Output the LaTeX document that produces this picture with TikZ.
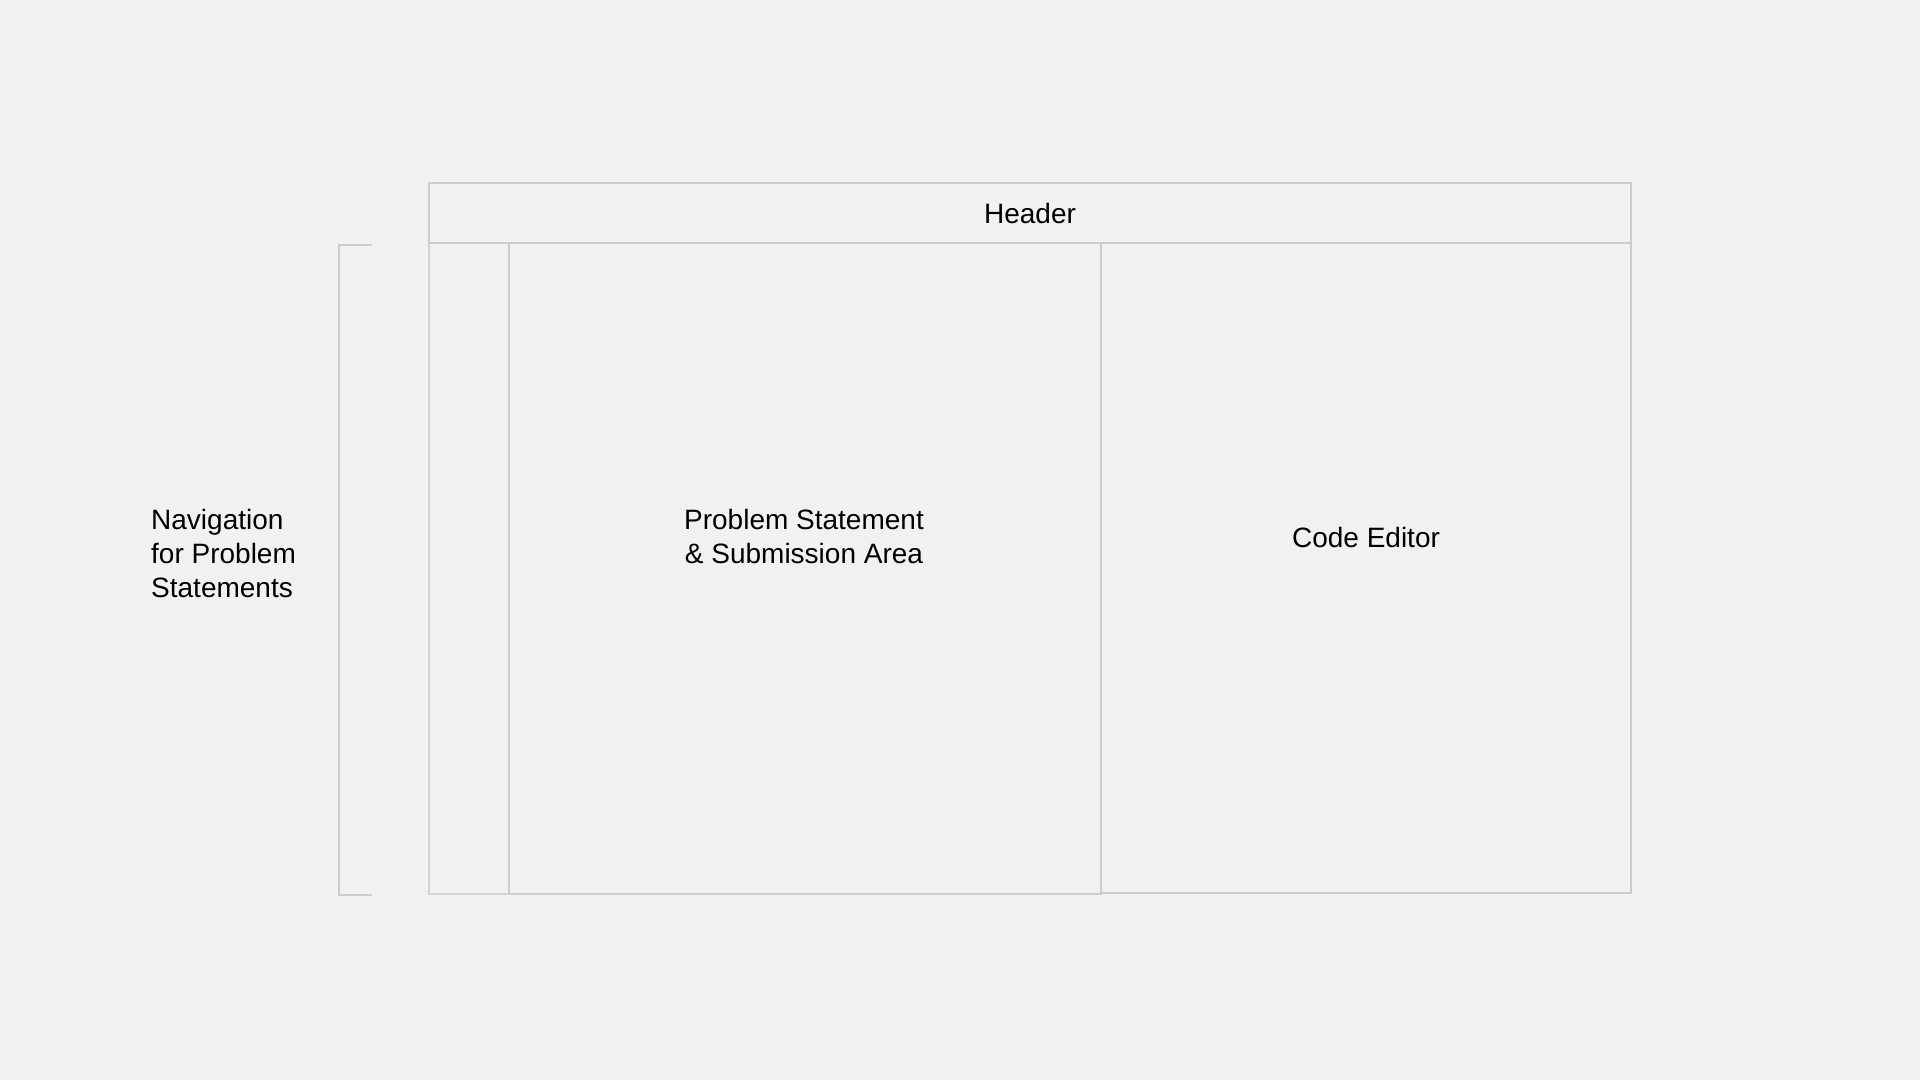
\documentclass[tikz,border=0pt]{standalone}
\usepackage{fontspec}
\setmainfont{Liberation Sans}
\definecolor{bg}{HTML}{F1F1F1}
\definecolor{frame}{HTML}{CCCCCC}
\definecolor{framelight}{HTML}{D4D4D4}
\tikzset{
  panel/.style={draw=frame, line width=2pt},
  panellight/.style={draw=framelight, line width=2pt},
  lbl/.style={font=\fontsize{28}{34}\selectfont, text=black, inner sep=0pt},
}
\begin{document}
\begin{tikzpicture}[x=1pt,y=-1pt]
  \fill[bg] (0,0) rectangle (1920,1080);
  \useasboundingbox (0,0) rectangle (1920,1080);
  % panels
  \draw[panellight] (429.3,242.7) rectangle (509.3,893.7);
  \draw[panel] (509.3,242.7) rectangle (1100.7,893.7);
  \draw[panel] (1100.7,242.7) rectangle (1630.7,892.7);
  \draw[panel] (428.6,182.7) rectangle (1630.7,242.7);
  % bracket
  \draw[panel] (371.7,245) -- (338.7,245) -- (338.7,894.7) -- (371.7,894.7);
  % labels
  \node[lbl] (header) at (1030,213.5) {Header};
  \node[lbl, align=center] (problem) at (804,536.8) {Problem Statement\\\& Submission Area};
  \node[lbl] (editor) at (1366,537.8) {Code Editor};
  \node[lbl, align=left, anchor=west] (nav) at (151,553.6) {Navigation\\for Problem\\Statements};
\end{tikzpicture}
\end{document}
